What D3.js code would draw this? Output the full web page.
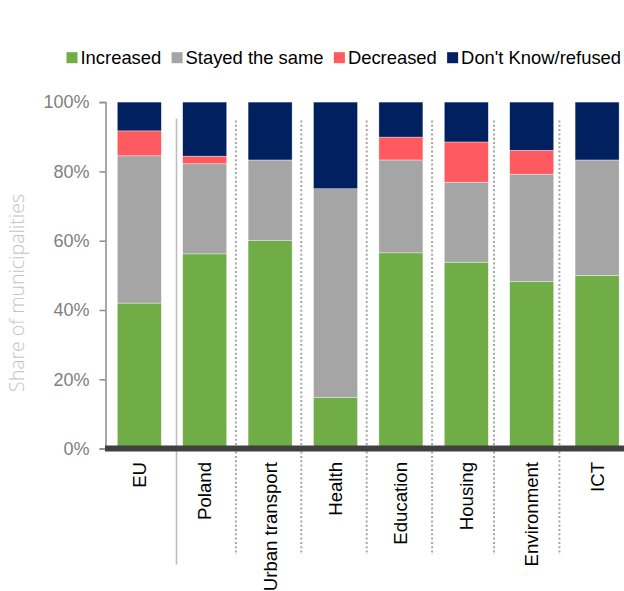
<!DOCTYPE html>
<html>
<head>
<meta charset="utf-8">
<script src="https://cdn.jsdelivr.net/npm/d3@7"></script>
<style>
  html, body { margin: 0; padding: 0; background: #fff; }
  svg { display: block; }
</style>
</head>
<body>
<svg id="chart" width="624" height="591"></svg>
<script>
// ---- Data ----
const categories = ["EU", "Poland", "Urban transport", "Health", "Education", "Housing", "Environment", "ICT"];
const seriesNames = ["Increased", "Stayed the same", "Decreased", "Don't Know/refused"];
const increased = [42.0, 56.2, 60.0, 14.7, 56.5, 53.8, 48.2, 50.0];
const stayedSame = [42.5, 26.0, 23.3, 60.3, 26.8, 23.1, 31.0, 33.3];
const decreased  = [7.2, 2.2, 0.0, 0.0, 6.6, 11.6, 6.9, 0.0];
const dontKnow   = [8.3, 15.6, 16.7, 25.0, 10.1, 11.5, 13.9, 16.7];
const yTicks = [0, 20, 40, 60, 80, 100];
const yTitle = "Share of municipalities";

const colors = ["#70AD47", "#A5A5A5", "#FF5A5F", "#002060"];
const keys = ["inc", "same", "dec", "dk"];

const rows = categories.map((c, i) => ({
  cat: c, inc: increased[i], same: stayedSame[i], dec: decreased[i], dk: dontKnow[i]
}));

const svg = d3.select("#chart");

const x = d3.scaleBand().domain(categories)
  .range([106.6, 629.8]).paddingInner(0.327).paddingOuter(0.1635);
const y = d3.scaleLinear().domain([0, 100]).range([448.6, 102.1]);

// ---- Bars ----
const stack = d3.stack().keys(keys)(rows);
svg.append("g").selectAll("g").data(stack).join("g")
  .attr("fill", (d, i) => colors[i])
  .selectAll("rect").data(d => d).join("rect")
  .attr("x", d => x(d.data.cat))
  .attr("width", x.bandwidth())
  .attr("y", d => y(d[1]))
  .attr("height", d => Math.max(0, y(d[0]) - y(d[1])))
  .attr("stroke", "#ffffff").attr("stroke-width", 0.6).attr("stroke-opacity", 0.6);

// ---- Separators ----
const step = x.step();
categories.slice(1).forEach((c, i) => {
  const sx = x(c) - (step - x.bandwidth()) / 2;
  if (i === 0) {
    svg.append("line").attr("x1", sx + 4.5).attr("x2", sx + 4.5)
      .attr("y1", 118.5).attr("y2", 564.5)
      .attr("stroke", "#bdbdbd").attr("stroke-width", 1.6);
  } else {
    const off = i >= 5 ? -5 : -1.5;
    svg.append("line").attr("x1", sx + off).attr("x2", sx + off)
      .attr("y1", 120.5).attr("y2", 555)
      .attr("stroke", "#a6a6a6").attr("stroke-width", 2)
      .attr("stroke-dasharray", "2,2.3");
  }
});

// ---- Y axis ----
const yAxis = d3.axisLeft(y).tickValues(yTicks).tickFormat(d => d + "%").tickSize(6).tickPadding(10);
const gy = svg.append("g").attr("transform", "translate(105.5,0)").call(yAxis);
gy.select(".domain").attr("stroke", "#8c8c8c").attr("stroke-width", 1.5);
gy.selectAll(".tick line").attr("stroke", "#8c8c8c").attr("stroke-width", 1.5);
gy.selectAll(".tick text").attr("fill", "#7f7f7f")
  .style("font-family", "'Liberation Sans', Arial, sans-serif").style("font-size", "18px");

// baseline
svg.append("line").attr("x1", 105).attr("x2", 624)
  .attr("y1", y(0)).attr("y2", y(0))
  .attr("stroke", "#404040").attr("stroke-width", 6);

// ---- X labels ----
svg.append("g").selectAll("text").data(categories).join("text")
  .attr("transform", d => `translate(${x(d) + x.bandwidth() / 2},462) rotate(-90)`)
  .attr("text-anchor", "end")
  .attr("dy", "0.35em")
  .style("font-family", "'Liberation Sans', Arial, sans-serif")
  .style("font-size", "18.6px")
  .attr("fill", "#000")
  .text(d => d);

// ---- Y title ----
svg.append("text")
  .attr("transform", "translate(17,293) rotate(-90)")
  .attr("text-anchor", "middle").attr("dy", "0.35em")
  .style("font-family", "'Open Sans', sans-serif")
  .style("font-size", "19.5px").style("font-weight", 300)
  .attr("fill", "#c4c4c4")
  .text(yTitle);

// ---- Legend ----
const lg = svg.append("g");
let lx = 66.5;
seriesNames.forEach((name, i) => {
  lg.append("rect").attr("x", lx).attr("y", 52.2).attr("width", 11).attr("height", 11).attr("fill", colors[i]);
  const t = lg.append("text").attr("x", lx + 14).attr("y", 57.7).attr("dy", "0.35em")
    .style("font-family", "'Liberation Sans', Arial, sans-serif").style("font-size", "18.4px")
    .attr("fill", "#000").text(name);
  lx = lx + 14 + t.node().getComputedTextLength() + 10.3;
});
</script>
</body>
</html>
